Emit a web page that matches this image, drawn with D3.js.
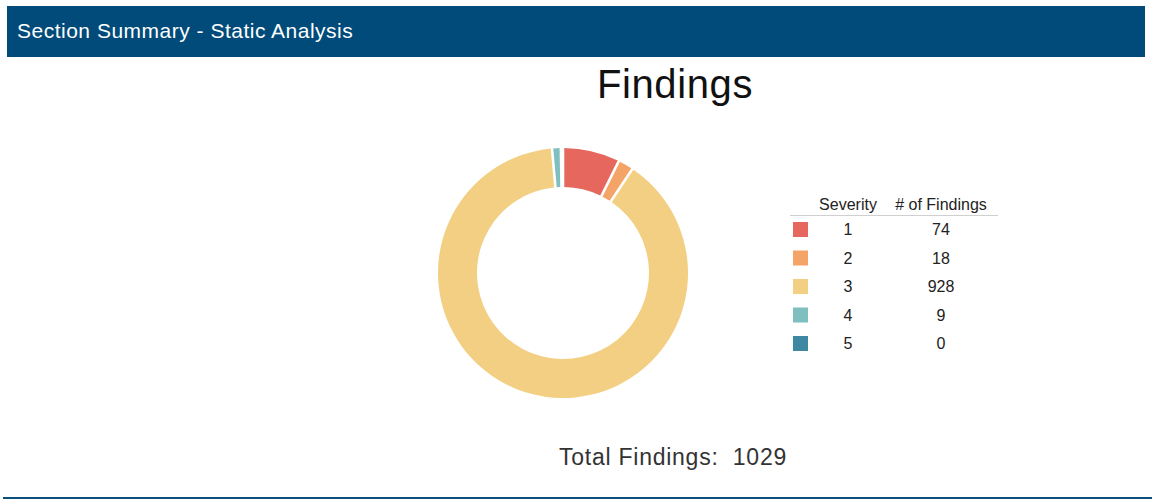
<!DOCTYPE html>
<html>
<head>
<meta charset="utf-8">
<script src="https://cdn.jsdelivr.net/npm/d3@7"></script>
<style>
body { margin: 0; background: #fff; }
svg text { font-family: 'Liberation Sans', Arial, sans-serif; }
</style>
</head>
<body>
<div id="plot"></div>
<script>
var width = 1152;
var height = 499;

var severities = ['1', '2', '3', '4', '5'];
var findings = [74, 18, 928, 9, 0];
var colors = ['#e5675e', '#f4a466', '#f2cf82', '#80bfc0', '#3f88a4'];
var legendHeaders = ['Severity', '# of Findings'];
var headerTitle = 'Section Summary - Static Analysis';
var chartTitle = 'Findings';

var svg = d3.select('#plot').append('svg')
	.attr('width', width)
	.attr('height', height)

// header bar
svg.append('rect')
	.attr('x', 7).attr('y', 6)
	.attr('width', 1138).attr('height', 51)
	.attr('fill', '#004b7a')
svg.append('text')
	.attr('x', 17).attr('y', 38)
	.attr('fill', '#fff')
	.attr('font-size', 21)
	.attr('letter-spacing', 0.5)
	.text(headerTitle)

// bottom rule
svg.append('rect')
	.attr('x', 3).attr('y', 497)
	.attr('width', 1149).attr('height', 2)
	.attr('fill', '#0b4f7c')

svg.append('text')
	.attr('x', 675).attr('y', 98)
	.attr('text-anchor', 'middle')
	.attr('font-size', 40)
	.attr('letter-spacing', 0.6)
	.attr('fill', '#111')
	.text(chartTitle)

// donut
var pie = d3.pie().sort(null).padAngle(0.017)
var arc = d3.arc().innerRadius(86).outerRadius(125)
var color = d3.scaleOrdinal().domain(severities).range(colors)

var g = svg.append('g').attr('transform', 'translate(563,273)')
g.selectAll('path')
	.data(pie(findings))
	.enter().append('path')
	.attr('d', arc)
	.attr('fill', function(d, i){ return color(severities[i]) })

// legend table
var rowY = d3.scalePoint().domain(severities).range([235, 349])
var leg = svg.append('g').attr('font-size', 16).attr('fill', '#222')
leg.append('text').attr('x', 848).attr('y', 210).attr('text-anchor', 'middle').text(legendHeaders[0])
leg.append('text').attr('x', 941).attr('y', 210).attr('text-anchor', 'middle').text(legendHeaders[1])
leg.append('line')
	.attr('x1', 790).attr('x2', 998)
	.attr('y1', 215.5).attr('y2', 215.5)
	.attr('stroke', '#d0d0d0')

var rows = leg.selectAll('.row')
	.data(severities)
	.enter().append('g')
	.attr('class', 'row')
	.attr('transform', function(d){ return 'translate(0,' + rowY(d) + ')' })
rows.append('rect')
	.attr('x', 793).attr('y', -13)
	.attr('width', 15).attr('height', 15)
	.attr('fill', function(d){ return color(d) })
rows.append('text')
	.attr('x', 848).attr('text-anchor', 'middle')
	.text(function(d){ return d })
rows.append('text')
	.attr('x', 941).attr('text-anchor', 'middle')
	.text(function(d, i){ return findings[i] })

svg.append('text')
	.attr('x', 673).attr('y', 465)
	.attr('text-anchor', 'middle')
	.attr('font-size', 23)
	.attr('letter-spacing', 0.75)
	.attr('fill', '#333')
	.style('white-space', 'pre')
	.text('Total Findings:  ' + d3.sum(findings))
</script>
</body>
</html>
